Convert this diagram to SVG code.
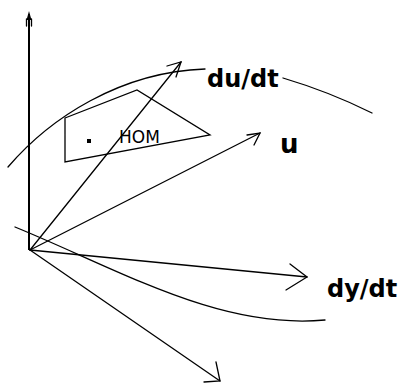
<svg xmlns="http://www.w3.org/2000/svg" width="404" height="383" viewBox="0 0 404 383">
<style>
.ln{fill:none;stroke:#000;stroke-width:1.3;stroke-linecap:round}
.ax{fill:none;stroke:#000;stroke-width:2}
.lbl{font-family:"DejaVu Sans",Verdana,sans-serif;fill:#000}
.big{font-weight:bold}
</style>
<rect width="404" height="383" fill="#fff"/>
<g id="connectors">
<line class="ax" x1="29" y1="14" x2="29" y2="250"/>
<polygon points="29,11 26.5,20 31.5,20" fill="#000"/>
<line class="ln" x1="26.5" y1="19" x2="26.5" y2="26"/>
<line class="ln" x1="31.5" y1="19" x2="31.5" y2="26"/>
<line class="ln" x1="30" y1="250" x2="181" y2="62"/>
<polyline class="ln" points="167,66 181,62 176,77"/>
<line class="ln" x1="30" y1="250" x2="260" y2="133"/>
<polyline class="ln" points="247,135 260,133 254,145"/>
<line class="ln" x1="30" y1="250" x2="307" y2="277"/>
<polyline class="ln" points="290,264 307,277 286,290"/>
<line class="ln" x1="30" y1="250" x2="220" y2="381"/>
<polyline class="ln" points="216,362 220,381 204,382"/>
<path class="ln" d="M8,167 C50,118 120,72 205,69"/>
<path class="ln" d="M283,78 Q330,92 372,113"/>
<path class="ln" d="M15,227 C120,270 220,330 325,320"/>
</g>
<g id="node-hom">
<polygon class="ln" points="65,118 137,90 210,135 65,162"/>
<rect x="87" y="139" width="4" height="4" fill="#000"/>
<text class="lbl" x="119" y="143" font-size="17">HOM</text>
</g>
<g id="label-dudt"><text class="lbl big" x="207" y="87" font-size="24">du/dt</text></g>
<g id="label-u"><text class="lbl big" x="280" y="153" font-size="26">u</text></g>
<g id="label-dydt"><text class="lbl big" x="327" y="297" font-size="24">dy/dt</text></g>
</svg>
